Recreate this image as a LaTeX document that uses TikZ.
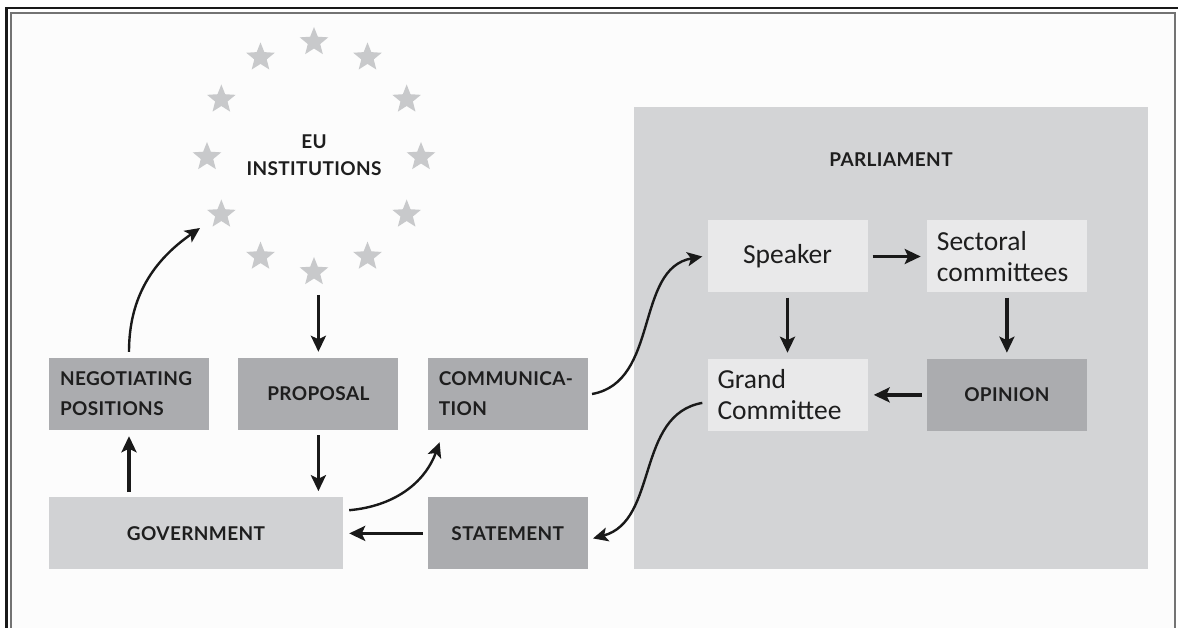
\documentclass[tikz,border=0pt]{standalone}
\usepackage{fontspec}
\usetikzlibrary{positioning,shapes.geometric,arrows.meta}

\newfontfamily\capsfont[LetterSpace=2]{Lato}
\newfontfamily\bodyfont{Carlito}
\newcommand\capsfnt{\capsfont\bfseries\fontsize{19}{30}\selectfont}
\newcommand\bodyfnt{\bodyfont\fontsize{27.5}{31}\selectfont}

\definecolor{boxdark}{RGB}{171,172,175}
\definecolor{boxlight}{RGB}{209,210,212}
\definecolor{panelcol}{RGB}{211,212,214}
\definecolor{boxpale}{RGB}{233,233,234}
\definecolor{starcol}{RGB}{200,201,203}
\definecolor{textcol}{RGB}{30,30,30}
\definecolor{arrcol}{RGB}{25,25,25}
\definecolor{bgcol}{RGB}{252,252,252}

\tikzset{
  darkbox/.style={fill=boxdark,text=textcol,font=\capsfnt,align=center,
    text width=138pt,inner xsep=11pt,inner ysep=0pt,minimum height=72pt},
  lightbox/.style={darkbox,fill=boxlight},
  parlbox/.style={fill=boxpale,text=textcol,font=\bodyfnt,align=center,
    text width=140pt,inner xsep=10pt,inner ysep=0pt,minimum height=72pt},
  panel/.style={fill=panelcol,minimum width=514pt,minimum height=462pt,inner sep=0pt},
  eustar/.style={star,star points=5,star point ratio=2.3,fill=starcol,
    minimum size=30pt,inner sep=0pt},
  arr/.style={-{Stealth[length=16pt,width=15pt,inset=3.5pt]},line width=3.2pt,
    color=arrcol,shorten >=6pt,shorten <=5pt},
  curvearr/.style={-{Stealth[length=15pt,width=14pt,inset=3.5pt]},line width=2.4pt,
    color=arrcol},
}

\begin{document}
\begin{tikzpicture}[x=1pt,y=-1pt]

\useasboundingbox (0,0) rectangle (1178,628);
\fill[white] (0,0) rectangle (1178,628);
\fill[bgcol] (11,13) rectangle (1175,628);
\draw[line width=2.5pt,black!90] (6.5,628) -- (6.5,8) -- (1178,8);
\draw[line width=1.5pt,black!55] (11,628) -- (11,13) -- (1175,13) -- (1175,628);

% EU ring
\foreach \i in {0,...,11}
  \node[eustar] (star\i) at ({314+107*sin(30*\i)},{157-115*cos(30*\i)}) {};
\node[font=\capsfont\bfseries\fontsize{19}{27}\selectfont,text=textcol,align=center]
  (eu) at (314,155) {EU\\INSTITUTIONS};

% national side
\node[darkbox,align=left] (negpos) at (129,394) {NEGOTIATING\\POSITIONS};
\node[darkbox,right=29pt of negpos] (proposal) {PROPOSAL};
\node[darkbox,align=left,right=29pt of proposal] (communication) {COMMUNICA-\\TION};
\node[lightbox,text width=272pt,below right=67pt and 0pt of negpos.south west]
  (government) {GOVERNMENT};
\node[darkbox,below=67pt of communication] (statement) {STATEMENT};

% parliament
\node[panel] (parliament) at (891,338) {};
\node[font=\capsfnt,text=textcol] (parltitle) at (891,160) {PARLIAMENT};
\node[parlbox] (speaker) at (787.5,256.5) {Speaker};
\node[parlbox,align=left,right=59pt of speaker] (sectoral) {Sectoral\\committees};
\node[parlbox,align=left,below=66pt of speaker] (grandcom) {Grand\\Committee};
\node[darkbox,below=66pt of sectoral] (opinion) {OPINION};

\coordinate (eutip) at (200,228);
\coordinate (eubase) at (314,290);

\path[arr]
  (proposal.north |- eubase) edge (proposal.north)
  (proposal.south) edge (proposal.south |- government.north)
  (negpos.south |- government.north) edge (negpos.south)
  (statement) edge (government)
  (speaker) edge (sectoral)
  (speaker) edge (grandcom)
  (sectoral) edge (opinion)
  (opinion) edge (grandcom)
  ;

\path[curvearr]
  ([yshift=6pt]negpos.north) edge[out=90,in=215] (eutip)
  ([xshift=6pt,yshift=-13pt]government.north east) edge[out=5,in=250]
    ([xshift=12pt,yshift=-12pt]communication.south west)
  ([xshift=4pt]communication.east) edge[out=10,in=190] ([xshift=-5pt]speaker.west)
  ([xshift=-5pt,yshift=-8pt]grandcom.west) edge[out=190,in=15]
    ([xshift=5pt,yshift=-5pt]statement.east)
  ;

\end{tikzpicture}
\end{document}
